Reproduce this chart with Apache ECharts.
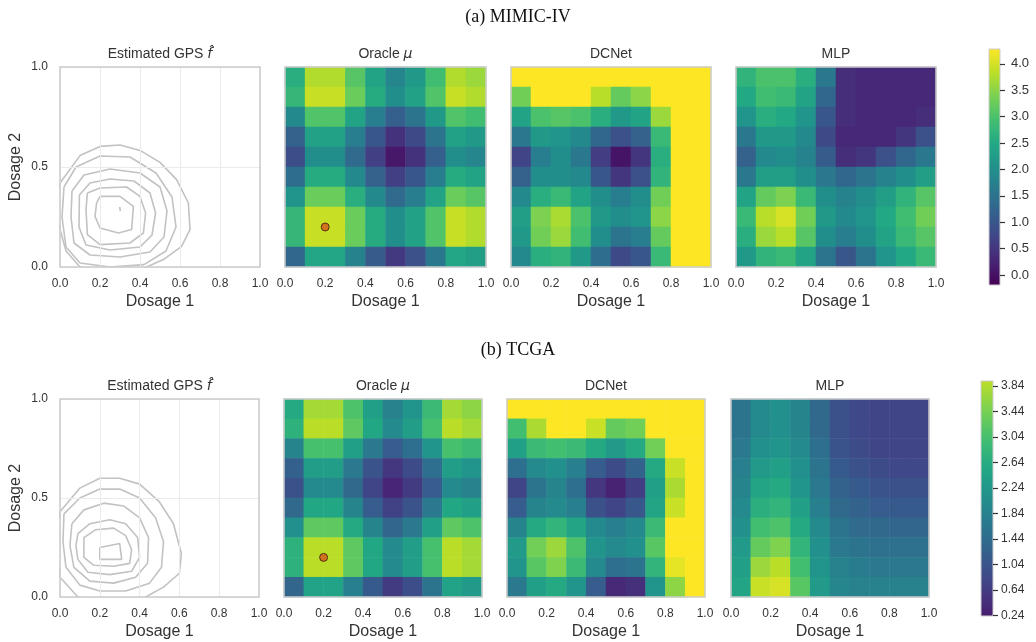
<!DOCTYPE html>
<html>
<head>
<meta charset="utf-8">
<title>GPS / Oracle / DCNet / MLP</title>
<script src="https://cdn.jsdelivr.net/npm/echarts@6/dist/echarts.min.js"></script>
<style>
  html, body { margin: 0; padding: 0; background: #fff; }
  #main { width: 1036px; height: 642px; }
</style>
</head>
<body>
<div id="main"></div>
<script>
// centres of the 10x10 cells (both dosages)
var cellCenters = ['0.05', '0.15', '0.25', '0.35', '0.45', '0.55', '0.65', '0.75', '0.85', '0.95'];
var cbTicksMimic = [0, 0.5, 1.0, 1.5, 2.0, 2.5, 3.0, 3.5, 4.0];
var cbTicksTcga = [0.24, 0.64, 1.04, 1.44, 1.84, 2.24, 2.64, 3.04, 3.44, 3.84];
var oraclePoint = [0.2, 0.2];

// grids are written row by row, top row (dosage 2 = 0.95) first
var oracleMimic = [
  [2.6, 3.75, 3.75, 3.1, 2.4, 1.85, 2.2, 2.9, 3.75, 3.6],
  [2.75, 3.9, 3.9, 3.25, 2.55, 2.0, 2.35, 3.05, 3.9, 3.75],
  [1.9, 3.05, 3.05, 2.4, 1.7, 1.15, 1.5, 2.2, 3.05, 2.9],
  [1.2, 2.35, 2.35, 1.7, 1.0, 0.45, 0.8, 1.5, 2.35, 2.2],
  [0.85, 2.0, 2.0, 1.35, 0.65, 0.1, 0.45, 1.15, 2.0, 1.85],
  [1.4, 2.55, 2.55, 1.9, 1.2, 0.65, 1.0, 1.7, 2.55, 2.4],
  [2.1, 3.25, 3.25, 2.6, 1.9, 1.35, 1.7, 2.4, 3.25, 3.1],
  [2.75, 3.9, 3.9, 3.25, 2.55, 2.0, 2.35, 3.05, 3.9, 3.75],
  [2.75, 3.9, 3.9, 3.25, 2.55, 2.0, 2.35, 3.05, 3.9, 3.75],
  [1.3, 2.45, 2.45, 1.8, 1.1, 0.55, 0.9, 1.6, 2.45, 2.3]
];
var dcnetMimic = [
  [4.28, 4.28, 4.28, 4.28, 4.28, 4.28, 4.28, 4.28, 4.28, 4.28],
  [3.3, 4.28, 4.28, 4.28, 3.8, 3.2, 3.5, 4.28, 4.28, 4.28],
  [2.4, 3.0, 3.1, 3.0, 2.6, 2.2, 2.4, 3.6, 4.28, 4.28],
  [1.6, 2.2, 2.1, 1.9, 1.3, 0.9, 1.2, 2.8, 4.28, 4.28],
  [0.7, 1.7, 2.0, 1.6, 0.6, 0.05, 0.5, 2.6, 4.28, 4.28],
  [1.2, 2.0, 2.0, 1.9, 1.0, 0.5, 0.9, 2.7, 4.28, 4.28],
  [1.9, 2.6, 2.8, 2.4, 2.0, 1.7, 2.0, 3.3, 4.28, 4.28],
  [2.3, 3.4, 3.7, 3.0, 2.2, 2.0, 2.1, 3.5, 4.28, 4.28],
  [2.2, 3.3, 3.6, 2.9, 2.0, 1.5, 1.7, 3.2, 4.28, 4.28],
  [1.9, 2.6, 2.7, 2.2, 1.4, 0.8, 1.0, 2.8, 4.28, 4.28]
];
var mlpMimic = [
  [2.7, 3.0, 3.0, 2.6, 1.6, 0.4, 0.3, 0.3, 0.3, 0.3],
  [2.5, 2.9, 2.8, 2.4, 1.3, 0.4, 0.3, 0.3, 0.3, 0.3],
  [2.1, 2.6, 2.5, 2.1, 1.0, 0.4, 0.3, 0.3, 0.3, 0.4],
  [1.6, 2.2, 2.2, 1.9, 0.8, 0.3, 0.3, 0.3, 0.5, 0.9],
  [1.2, 1.9, 2.0, 1.8, 1.1, 0.4, 0.5, 0.9, 1.3, 1.6],
  [1.6, 2.3, 2.3, 2.0, 1.6, 1.3, 1.5, 1.8, 2.0, 2.3],
  [2.4, 3.2, 3.4, 2.8, 2.0, 1.8, 2.0, 2.3, 2.7, 3.1],
  [2.8, 3.8, 4.0, 3.3, 2.2, 1.9, 2.1, 2.5, 2.9, 3.3],
  [2.6, 3.6, 3.8, 3.1, 2.0, 1.7, 2.0, 2.4, 2.8, 3.1],
  [2.2, 2.7, 2.8, 2.4, 1.5, 1.0, 1.5, 2.1, 2.5, 2.8]
];
var oracleTcga = [
  [2.6, 3.75, 3.75, 3.1, 2.4, 1.85, 2.2, 2.9, 3.75, 3.6],
  [2.75, 3.9, 3.9, 3.25, 2.55, 2.0, 2.35, 3.05, 3.9, 3.75],
  [1.9, 3.05, 3.05, 2.4, 1.7, 1.2, 1.5, 2.2, 3.05, 2.9],
  [1.25, 2.35, 2.35, 1.7, 1.05, 0.6, 0.9, 1.5, 2.35, 2.2],
  [1.0, 2.0, 2.0, 1.4, 0.8, 0.35, 0.65, 1.2, 2.0, 1.85],
  [1.4, 2.55, 2.55, 1.9, 1.2, 0.75, 1.05, 1.7, 2.55, 2.4],
  [2.1, 3.25, 3.25, 2.6, 1.9, 1.35, 1.7, 2.4, 3.25, 3.1],
  [2.75, 3.9, 3.9, 3.25, 2.55, 2.0, 2.35, 3.05, 3.9, 3.75],
  [2.75, 3.9, 3.9, 3.25, 2.55, 2.0, 2.35, 3.05, 3.9, 3.75],
  [1.35, 2.45, 2.45, 1.8, 1.15, 0.65, 0.95, 1.6, 2.45, 2.3]
];
var dcnetTcga = [
  [4.37, 4.37, 4.37, 4.37, 4.37, 4.37, 4.37, 4.37, 4.37, 4.37],
  [3.0, 3.8, 4.37, 4.37, 4.0, 3.3, 3.4, 4.37, 4.37, 4.37],
  [2.4, 2.9, 3.0, 2.9, 2.6, 2.3, 2.6, 3.4, 4.37, 4.37],
  [1.5, 2.0, 2.1, 1.8, 1.2, 0.9, 1.3, 2.6, 4.0, 4.37],
  [0.8, 1.6, 1.9, 1.5, 0.6, 0.3, 0.7, 2.4, 3.8, 4.37],
  [1.2, 1.9, 2.0, 1.8, 1.0, 0.8, 1.1, 2.5, 4.0, 4.37],
  [1.9, 2.6, 2.8, 2.5, 2.0, 1.8, 2.0, 2.9, 4.37, 4.37],
  [2.3, 3.4, 3.7, 3.1, 2.2, 2.0, 2.1, 3.2, 4.37, 4.37],
  [2.2, 3.2, 3.5, 2.9, 2.0, 1.5, 1.6, 2.8, 4.2, 4.37],
  [1.7, 2.4, 2.6, 2.2, 1.2, 0.4, 0.5, 2.2, 3.6, 4.37]
];
var mlpTcga = [
  [1.6, 2.0, 2.1, 1.9, 1.4, 1.0, 0.85, 0.8, 0.8, 0.8],
  [1.6, 2.0, 2.1, 1.9, 1.4, 1.0, 0.85, 0.8, 0.8, 0.8],
  [1.7, 2.1, 2.2, 2.0, 1.5, 1.05, 0.9, 0.8, 0.8, 0.8],
  [1.8, 2.3, 2.4, 2.1, 1.6, 1.15, 1.0, 0.9, 0.85, 0.85],
  [1.9, 2.5, 2.6, 2.2, 1.7, 1.3, 1.15, 1.05, 1.0, 1.0],
  [2.0, 2.7, 2.8, 2.4, 1.8, 1.4, 1.3, 1.2, 1.15, 1.15],
  [2.1, 3.0, 3.1, 2.6, 2.0, 1.6, 1.45, 1.4, 1.35, 1.35],
  [2.3, 3.3, 3.5, 2.8, 2.1, 1.7, 1.6, 1.55, 1.55, 1.55],
  [2.4, 3.7, 3.9, 3.0, 2.2, 1.85, 1.75, 1.7, 1.7, 1.7],
  [2.5, 4.0, 4.1, 3.2, 2.3, 1.95, 1.85, 1.85, 1.85, 1.85]
];

// GPS contour lines, outer to inner, as [dosage1, dosage2] points
var gpsMimic = [
  [[0, 0.42], [0.1, 0.557], [0.2, 0.603], [0.3, 0.61], [0.4, 0.583], [0.5, 0.523], [0.583, 0.437], [0.642, 0.32], [0.65, 0.187], [0.608, 0.103], [0.517, 0.037], [0.433, 0], [0.3, -0.05], [0.1, 0], [0.03, 0.08], [0, 0.19], [-0.03, 0.3], [0, 0.42]],
  [[0.02, 0.4], [0.08, 0.5], [0.2, 0.555], [0.35, 0.55], [0.48, 0.47], [0.56, 0.35], [0.58, 0.2], [0.53, 0.08], [0.42, 0.012], [0.25, 0.0], [0.1, 0.02], [0.03, 0.1], [0.01, 0.25], [0.02, 0.4]],
  [[0.06, 0.38], [0.12, 0.46], [0.25, 0.49], [0.4, 0.47], [0.5, 0.4], [0.535, 0.28], [0.52, 0.15], [0.45, 0.075], [0.3, 0.05], [0.15, 0.06], [0.07, 0.12], [0.055, 0.25], [0.06, 0.38]],
  [[0.097, 0.36], [0.15, 0.42], [0.25, 0.44], [0.37, 0.43], [0.45, 0.37], [0.478, 0.27], [0.46, 0.16], [0.4, 0.1], [0.25, 0.085], [0.13, 0.11], [0.095, 0.2], [0.097, 0.36]],
  [[0.137, 0.37], [0.2, 0.395], [0.333, 0.4], [0.4, 0.353], [0.428, 0.27], [0.417, 0.17], [0.35, 0.12], [0.2, 0.112], [0.137, 0.162], [0.13, 0.287], [0.137, 0.37]],
  [[0.2, 0.353], [0.3, 0.353], [0.367, 0.303], [0.358, 0.187], [0.292, 0.17], [0.2, 0.195], [0.175, 0.253], [0.183, 0.32], [0.2, 0.353]],
  [[0.298, 0.3], [0.302, 0.28]]
];
var gpsTcga = [
  [[0, 0.43], [0.1, 0.55], [0.2, 0.6], [0.3, 0.6], [0.4, 0.57], [0.5, 0.48], [0.57, 0.37], [0.61, 0.22], [0.6, 0.12], [0.52, 0.05], [0.43, 0], [0.3, -0.04], [0.09, 0], [0, 0.1], [-0.03, 0.3], [0, 0.43]],
  [[0.02, 0.42], [0.1, 0.5], [0.2, 0.545], [0.3, 0.545], [0.4, 0.5], [0.48, 0.4], [0.52, 0.28], [0.51, 0.15], [0.45, 0.07], [0.33, 0.03], [0.2, 0.03], [0.1, 0.06], [0.03, 0.15], [0.015, 0.28], [0.02, 0.42]],
  [[0.06, 0.37], [0.12, 0.44], [0.22, 0.474], [0.32, 0.46], [0.4, 0.4], [0.445, 0.3], [0.44, 0.17], [0.38, 0.1], [0.27, 0.07], [0.15, 0.08], [0.07, 0.15], [0.05, 0.26], [0.06, 0.37]],
  [[0.09, 0.32], [0.15, 0.37], [0.25, 0.39], [0.33, 0.37], [0.39, 0.3], [0.4, 0.2], [0.36, 0.13], [0.25, 0.113], [0.14, 0.125], [0.09, 0.19], [0.08, 0.26], [0.09, 0.32]],
  [[0.12, 0.3], [0.18, 0.34], [0.27, 0.348], [0.33, 0.31], [0.36, 0.24], [0.35, 0.17], [0.27, 0.155], [0.17, 0.16], [0.12, 0.2], [0.12, 0.3]],
  [[0.2, 0.25], [0.3, 0.27], [0.31, 0.19], [0.2, 0.19], [0.2, 0.25]]
];

var viridis = ['#440154', '#482475', '#414487', '#355f8d', '#2a788e', '#21918c',
               '#22a884', '#44bf70', '#7ad151', '#bddf26', '#fde725'];

function viridisAt(t) {
  var p = Math.max(0, Math.min(1, t)) * 10, i = Math.min(9, Math.floor(p)), f = p - i;
  var a = viridis[i], b = viridis[i + 1];
  var c = [1, 3, 5].map(function (k) {
    var u = parseInt(a.substr(k, 2), 16), v = parseInt(b.substr(k, 2), 16);
    return Math.round(u + (v - u) * f);
  });
  return 'rgb(' + c.join(',') + ')';
}

var SANS = 'Liberation Sans, Arial, sans-serif';
var TXT = '#333333';

var rowsCfg = [
  { top: 67, h: 200, lefts: [60, 285, 511, 736], widths: [200, 201, 200, 200],
    label: '(a) MIMIC-IV', labelY: 17, gps: gpsMimic, maps: [oracleMimic, dcnetMimic, mlpMimic],
    vmin: -0.19, vmax: 4.28,
    cb: { x: 989, y: 49, w: 11, h: 236, min: -0.19, max: 4.28, ticks: cbTicksMimic, digits: 1, fs: 13, margin: 11, tlo: 0, thi: 1 } },
  { top: 399, h: 198, lefts: [60, 284, 507, 731], widths: [199, 198, 198, 198],
    label: '(b) TCGA', labelY: 350, gps: gpsTcga, maps: [oracleTcga, dcnetTcga, mlpTcga],
    vmin: -0.12, vmax: 4.37,
    cb: { x: 981, y: 381, w: 12, h: 235, min: 0.23, max: 3.92, ticks: cbTicksTcga, digits: 2, fs: 12, margin: 8, tlo: 0.08, thi: 0.9 } }
];
var panelTitles = ['Estimated GPS {i|f\u0302}', 'Oracle {i|\u03bc}', 'DCNet', 'MLP'];

var grid = [], xAxis = [], yAxis = [], series = [], graphic = [], visualMap = [];

function valueAxes(g, showY, showSplit) {
  xAxis.push({
    gridIndex: g, type: 'value', min: 0, max: 1, interval: 0.2, z: 6,
    axisLine: { show: false, onZero: false }, axisTick: { show: false },
    axisLabel: { fontSize: 12, color: TXT, fontFamily: SANS, margin: 11,
                 formatter: function (v) { return v.toFixed(1); } },
    splitLine: { show: showSplit, lineStyle: { color: '#ebebeb', width: 1 } },
    name: 'Dosage 1', nameLocation: 'middle', nameGap: 27,
    nameTextStyle: { fontSize: 16, color: TXT, fontFamily: SANS }
  });
  yAxis.push({
    gridIndex: g, type: 'value', min: 0, max: 1, interval: 0.5, z: 6,
    axisLine: { show: false, onZero: false }, axisTick: { show: false },
    axisLabel: { show: showY, fontSize: 12, color: TXT, fontFamily: SANS, margin: 12,
                 formatter: function (v) { return v.toFixed(1); } },
    splitLine: { show: showSplit, lineStyle: { color: '#ebebeb', width: 1 } },
    name: showY ? 'Dosage 2' : '', nameLocation: 'middle', nameGap: 36,
    nameTextStyle: { fontSize: 16, color: TXT, fontFamily: SANS }
  });
}

rowsCfg.forEach(function (row) {
  graphic.push({
    type: 'text', x: 518, y: row.labelY, z: 20,
    style: { text: row.label, textAlign: 'center', textVerticalAlign: 'middle',
             font: '18px "Liberation Serif", "Times New Roman", serif', fill: '#111' }
  });
  var heatIdx = [];
  for (var p = 0; p < 4; p++) {
    var L = row.lefts[p], W = row.widths[p];
    graphic.push({
      type: 'text', x: L + W / 2, y: row.top - 13, z: 20,
      style: { text: panelTitles[p], textAlign: 'center', textVerticalAlign: 'middle',
               fontSize: 14, fontFamily: SANS, fill: TXT,
               rich: { i: { fontSize: 14, fontStyle: 'italic', fontFamily: 'DejaVu Sans', fill: TXT } } }
    });
    if (p > 0) {
      // heatmap grid with hidden category axes
      var hg = grid.length;
      grid.push({ left: L, top: row.top, width: W, height: row.h, outerBoundsMode: 'none' });
      xAxis.push({ gridIndex: hg, type: 'category', data: cellCenters, show: false });
      yAxis.push({ gridIndex: hg, type: 'category', data: cellCenters, show: false });
      var vals = row.maps[p - 1], data = [];
      for (var r = 0; r < vals.length; r++) {
        for (var c = 0; c < vals[r].length; c++) data.push([c, vals.length - 1 - r, vals[r][c]]);
      }
      heatIdx.push(series.length);
      series.push({ type: 'heatmap', xAxisIndex: hg, yAxisIndex: hg, data: data, z: 2,
                    itemStyle: { borderWidth: 0 }, emphasis: { disabled: true }, progressive: 0 });
    }
    // value axes on top, with the panel frame
    var vg = grid.length;
    grid.push({ left: L, top: row.top, width: W, height: row.h, outerBoundsMode: 'none',
                show: true, borderColor: '#cccccc', borderWidth: 1.5, backgroundColor: 'transparent', z: 8 });
    valueAxes(vg, p === 0, p === 0);
    if (p === 0) {
      row.gps.forEach(function (line) {
        series.push({ type: 'line', xAxisIndex: vg, yAxisIndex: vg, data: line, showSymbol: false,
                      clip: true, silent: true, z: 4,
                      lineStyle: { color: '#c2c2c2', width: 1.6 } });
      });
    }
    if (p === 1) {
      series.push({ type: 'scatter', xAxisIndex: vg, yAxisIndex: vg, data: [oraclePoint], z: 5,
                    symbolSize: 8, silent: true,
                    itemStyle: { color: '#d5561c', borderColor: '#3a1a0a', borderWidth: 1 } });
    }
  }
  visualMap.push({ type: 'continuous', show: false, seriesIndex: heatIdx, dimension: 2,
                   min: row.vmin, max: row.vmax, inRange: { color: viridis } });

  // colour bar: gradient box + tick axis
  var cb = row.cb, stops = [];
  for (var k = 0; k <= 20; k++) {
    stops.push({ offset: k / 20, color: viridisAt(cb.thi - (cb.thi - cb.tlo) * k / 20) });
  }
  graphic.push({
    type: 'rect', z: 1, shape: { x: cb.x, y: cb.y, width: cb.w, height: cb.h },
    style: { fill: new echarts.graphic.LinearGradient(0, 0, 0, 1, stops), stroke: '#cccccc', lineWidth: 1 }
  });
  var cg = grid.length;
  grid.push({ left: cb.x, top: cb.y, width: cb.w, height: cb.h, outerBoundsMode: 'none' });
  xAxis.push({ gridIndex: cg, type: 'value', show: false, min: 0, max: 1 });
  yAxis.push({
    gridIndex: cg, type: 'value', position: 'right', min: cb.min, max: cb.max, z: 6,
    axisLine: { show: false, onZero: false },
    axisTick: { show: true, customValues: cb.ticks, length: 5, lineStyle: { color: '#333', width: 1.2 } },
    axisLabel: { customValues: cb.ticks, fontSize: cb.fs, color: TXT, fontFamily: SANS, margin: cb.margin,
                 formatter: (function (d) { return function (v) { return (+v).toFixed(d); }; })(cb.digits) },
    splitLine: { show: false }
  });
});

var chart = echarts.init(document.getElementById('main'), null, { renderer: 'canvas' });
chart.setOption({
  backgroundColor: '#ffffff',
  animation: false,
  grid: grid,
  xAxis: xAxis,
  yAxis: yAxis,
  visualMap: visualMap,
  series: series,
  graphic: graphic
});
</script>
</body>
</html>
